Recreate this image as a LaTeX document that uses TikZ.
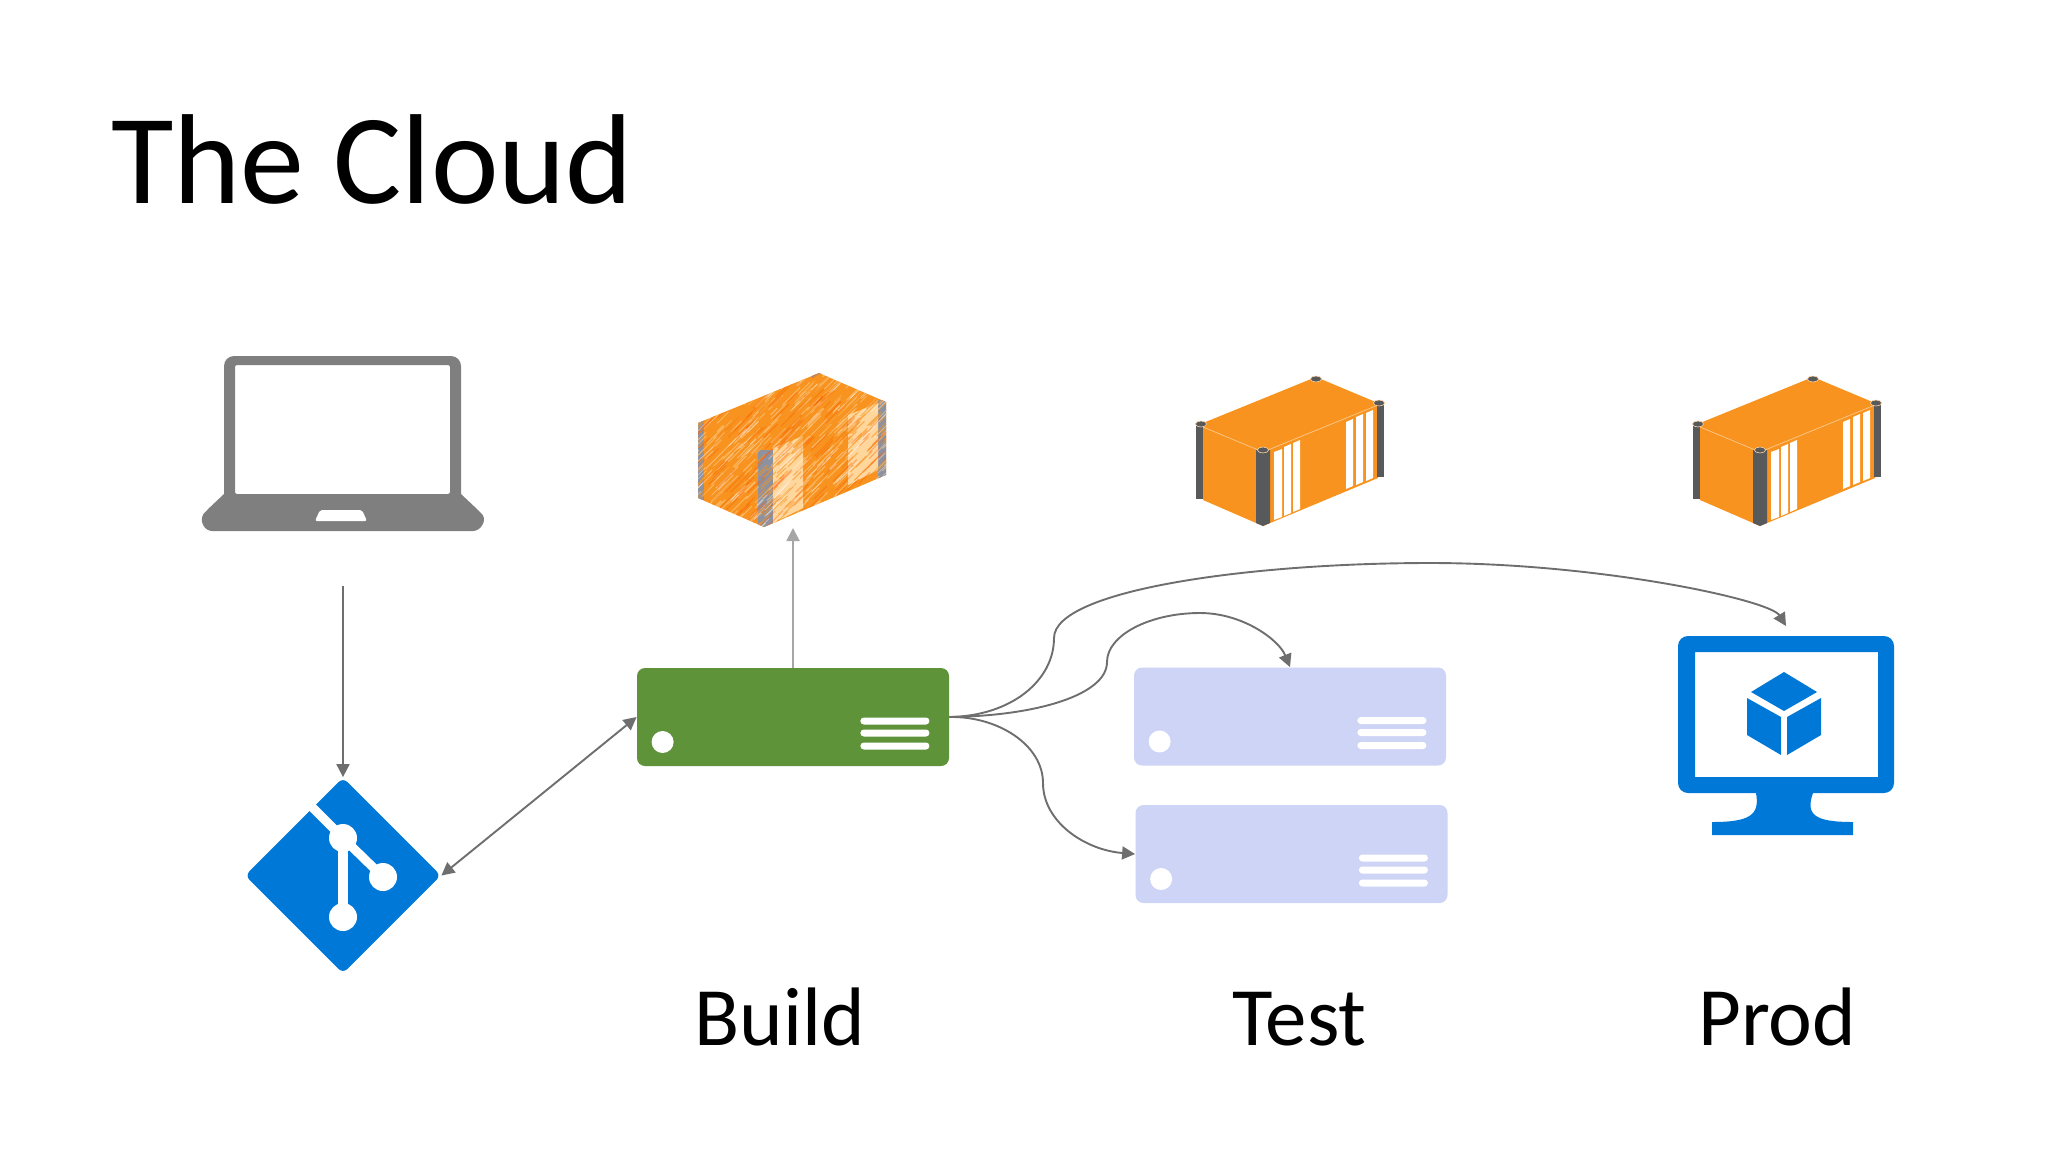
\documentclass[tikz,border=0pt]{standalone}
\usepackage{fontspec}
\setmainfont{Carlito}
\usetikzlibrary{arrows.meta,shapes.geometric}
\definecolor{lapgrey}{HTML}{7F7F7F}
\definecolor{linkgrey}{HTML}{6E6E6E}
\definecolor{pushgrey}{HTML}{A6A6A6}
\definecolor{azure}{HTML}{0078D7}
\definecolor{buildgreen}{HTML}{5E933A}
\definecolor{testblue}{HTML}{CDD4F5}
\definecolor{boxorange}{HTML}{F7931E}
\definecolor{postgrey}{HTML}{58595B}
\definecolor{sketchgrey}{HTML}{8E92A0}
\definecolor{sketchcream}{HTML}{FFD79C}
\tikzset{
  serverbox/.style = {shape=rectangle, rounded corners=4pt, minimum width=156pt, minimum height=49pt, inner sep=0pt},
  stagelabel/.style = {font=\fontsize{41.5}{41.5}\selectfont, anchor=base, inner sep=0pt},
  link/.style = {draw=linkgrey, line width=0.95pt, -{Triangle[length=6.5pt,width=6.5pt]}},
  container/.pic = {
    \fill[boxorange] (1203,423) -- (1316,377) -- (1378,403) -- (1378,478) -- (1263,526) -- (1203,500) -- cycle;
    \draw[boxorange!55!white, line width=0.4pt] (1203,427) -- (1263,452) -- (1378,405);
    \fill[postgrey] (1196,424) rectangle (1203,499);
    \fill[postgrey] (1256,450) -- (1270,450) -- (1270,523) -- (1263,526) -- (1256,523) -- cycle;
    \fill[postgrey] (1377,404) rectangle (1384,477);
    \foreach \cx/\cy in {1201/424, 1263/450, 1379/403, 1316/379}
      \filldraw[fill=postgrey, draw=boxorange!40!white, line width=0.3pt] (\cx,\cy) ellipse [x radius=2.8pt, y radius=1.5pt];
    \foreach \xa/\xb/\ya/\yb/\yc/\yd in {1274/1282/452/449/520/517, 1284/1291/447/444/516/513,
        1293/1300/443/440/512/509, 1346/1353/422/419/489/486, 1356/1363/417/414/485/482, 1366/1373/413/410/481/478}
      \fill[white] (\xa,\ya) -- (\xb,\yb) -- (\xb,\yd) -- (\xa,\yc) -- cycle;
  }
}
\begin{document}
\begin{tikzpicture}[x=0.5pt, y=-0.5pt]
  \useasboundingbox (0,0) rectangle (2048,1152);

  \node[anchor=base west, inner sep=0pt, font=\fontsize{64}{64}\selectfont] (title) at (111,203) {The Cloud};

  \fill[lapgrey, even odd rule] (224,494) [rounded corners=5pt] -- (224,356) -- (461,356) -- (461,485) [sharp corners]
      -- (461,494) -- (478,510) [rounded corners=3pt] -- (486,518) -- (479,531) -- (206,531) -- (200,518) -- (207,510) [sharp corners] -- cycle
    [rounded corners=1pt] (235,365) rectangle (450,494);
  \fill[white, rounded corners=1pt] (320,510) -- (362,510) -- (367,521) -- (315,521) -- cycle;
  \coordinate (laptopfoot) at (343,586);

  \node[shape=diamond, fill=azure, rounded corners=3pt, inner sep=0pt, minimum width=98pt, minimum height=98pt] (git) at (343,875.5) {};
  \draw[white, line width=4.5pt] (303,798) -- (343,838) -- (383,877);
  \draw[white, line width=5pt] (343,838) -- (343,917);
  \foreach \gx/\gy in {343/838, 383/877, 343/917}
    \fill[white] (\gx,\gy) circle [radius=7pt];

  \node[serverbox, fill=buildgreen] (build) at (793,717) {};
  \node[serverbox, fill=testblue] (testa) at (1290,716.5) {};
  \node[serverbox, fill=testblue] (testb) at (1291.5,854) {};
  \foreach \srv in {build, testa, testb} {
    \fill[white] (\srv.west) ++(26,25) circle [radius=5.5pt];
    \foreach \by in {4,16,29}
      \fill[white, rounded corners=1.7pt] (\srv.east) ++(-20,\by-3.5) rectangle ++(-69,7);
  }

  \begin{scope}
    \clip (698,423) -- (819,373) -- (886,402) -- (886,475) -- (764,527) -- (698,498) -- cycle;
    \fill[boxorange] (690,370) rectangle (890,530);
    \fill[sketchgrey] (698,420) rectangle (704,500);
    \fill[sketchgrey] (758,450) rectangle (773,530);
    \fill[sketchgrey] (878,400) rectangle (890,480);
    \fill[sketchcream] (773,448) -- (803,436) -- (803,508) -- (773,523) -- cycle;
    \fill[sketchcream] (848,415) -- (878,403) -- (878,470) -- (848,485) -- cycle;
    \draw[sketchgrey, line width=1pt] (812,377) -- (824,371);
    \pgfmathsetseed{7}
    \foreach \i in {1,...,1100} {
      \pgfmathsetmacro\hx{685+rnd*210}
      \pgfmathsetmacro\hy{372+rnd*170}
      \pgfmathsetmacro\hl{6+rnd*14}
      \pgfmathparse{int(mod(\i,5))}
      \ifcase\pgfmathresult
        \draw[white, opacity=0.4, line width=0.4pt] (\hx,\hy) -- ++(\hl,-\hl);
      \or
        \draw[sketchcream, opacity=0.5, line width=0.5pt] (\hx,\hy) -- ++(\hl,-\hl);
      \or
        \draw[orange!70!red, opacity=0.35, line width=0.6pt] (\hx,\hy) -- ++(\hl,-\hl);
      \else
        \draw[boxorange, opacity=0.55, line width=0.6pt] (\hx,\hy) -- ++(\hl,-\hl);
      \fi
    }
  \end{scope}
  \coordinate (sketchfoot) at (793,528);
  \pic at (0,0) {container};
  \pic at (497,0) {container};

  \fill[azure, even odd rule] [rounded corners=5pt] (1678,636) rectangle (1894,793)
    [sharp corners] (1695,652) rectangle (1878,777);
  \fill[azure] (1756,793) .. controls (1760,815) and (1750,822) .. (1712,822) -- (1712,835) -- (1853,835) -- (1853,822)
    .. controls (1815,822) and (1805,815) .. (1813,793) -- cycle;
  \fill[azure] (1784,672) -- (1817,692) -- (1784,711) -- (1751,692) -- cycle;
  \fill[azure] (1747,698) -- (1781,717) -- (1781,755) -- (1747,735) -- cycle;
  \fill[azure] (1787,717) -- (1821,698) -- (1821,735) -- (1787,755) -- cycle;
  \coordinate (prodtop) at (1786,626);

  \draw[link] (laptopfoot) -- (git.north);
  \draw[link, {Triangle[length=6.5pt,width=6.5pt]}-{Triangle[length=6.5pt,width=6.5pt]}] (git.east) -- (build.west);
  \draw[link, draw=pushgrey, {Triangle[length=6.5pt,width=6.5pt,fill=pushgrey]}-] (sketchfoot) -- (build.north);
  \draw[link] (build.east) .. controls (1012,716) and (1054,680) .. (1054,638)
    .. controls (1054,590) and (1250,563) .. (1430,563) .. controls (1600,563) and (1770,600) .. (prodtop);
  \draw[link] (build.east) .. controls (1036,716) and (1107,695) .. (1107,662)
    .. controls (1107,635) and (1150,613) .. (1200,613) .. controls (1243,613) and (1279,640) .. (testa.north);
  \draw[link] (build.east) .. controls (998,716) and (1043,745) .. (1043,783)
    .. controls (1043,822) and (1085,850) .. (testb.west);

  \node[stagelabel] (buildlabel) at (780,1045) {Build};
  \node[stagelabel] (testlabel) at (1299.5,1045) {Test};
  \node[stagelabel] (prodlabel) at (1777,1045) {Prod};
\end{tikzpicture}
\end{document}
